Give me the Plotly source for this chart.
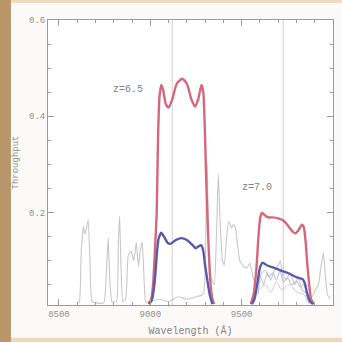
import plotly.graph_objects as go

# ---------------- data ----------------
# z=6.5 filter throughput (red) and with QE (blue)
red65_wl = [8990, 9005, 9015, 9025, 9035, 9042, 9050, 9060, 9070, 9085, 9100, 9120, 9145, 9175, 9200, 9225, 9245, 9262, 9280, 9290, 9298, 9305, 9312, 9320, 9330, 9340, 9350]
red65_val = [0.01, 0.02, 0.05, 0.12, 0.2, 0.35, 0.44, 0.465, 0.455, 0.425, 0.418, 0.435, 0.468, 0.478, 0.468, 0.435, 0.42, 0.435, 0.465, 0.45, 0.38, 0.28, 0.2, 0.12, 0.05, 0.02, 0.01]

blue65_wl = [8995, 9010, 9025, 9035, 9045, 9060, 9075, 9095, 9110, 9140, 9170, 9200, 9230, 9248, 9265, 9280, 9290, 9300, 9312, 9325, 9340]
blue65_val = [0.01, 0.02, 0.06, 0.11, 0.145, 0.158, 0.15, 0.137, 0.135, 0.143, 0.147, 0.143, 0.133, 0.126, 0.13, 0.132, 0.12, 0.09, 0.06, 0.03, 0.01]

# z=7.0 filter
red70_wl = [9550, 9565, 9580, 9592, 9602, 9612, 9625, 9645, 9670, 9700, 9730, 9755, 9780, 9795, 9810, 9830, 9840, 9850, 9860, 9870, 9880, 9895]
red70_val = [0.01, 0.03, 0.08, 0.15, 0.19, 0.2, 0.195, 0.19, 0.19, 0.188, 0.183, 0.172, 0.16, 0.157, 0.163, 0.175, 0.17, 0.14, 0.09, 0.05, 0.02, 0.01]

blue70_wl = [9555, 9570, 9585, 9600, 9615, 9640, 9670, 9700, 9750, 9800, 9835, 9848, 9860, 9875, 9890]
blue70_val = [0.01, 0.02, 0.05, 0.085, 0.096, 0.09, 0.086, 0.082, 0.075, 0.066, 0.061, 0.05, 0.03, 0.015, 0.01]

# faint sky-affected curves
paleblue_wl = [9590, 9610, 9630, 9650, 9670, 9690, 9710, 9730, 9750, 9775, 9800, 9820, 9840, 9855, 9870]
paleblue_val = [0.03, 0.075, 0.08, 0.065, 0.075, 0.06, 0.078, 0.055, 0.065, 0.05, 0.058, 0.045, 0.05, 0.03, 0.01]
palepink_wl = [9600, 9630, 9660, 9690, 9720, 9760, 9800, 9840, 9860]
palepink_val = [0.04, 0.05, 0.035, 0.055, 0.04, 0.05, 0.035, 0.03, 0.015]

# gray spectrum
gray_wl = [8600, 8612, 8622, 8634, 8642, 8652, 8660, 8670, 8682, 8745, 8760, 8770, 8778, 8790, 8815, 8825, 8832, 8840, 8850,
           8865, 8879, 8895, 8910, 8923, 8935, 8945, 8956, 8966, 8975, 9000, 9050, 9100, 9150, 9200, 9250, 9290, 9305, 9312,
           9320, 9335, 9350, 9362, 9372, 9382, 9395, 9405, 9418, 9430, 9445, 9455, 9465, 9478, 9490, 9510, 9530, 9545, 9560,
           9580, 9600, 9620, 9640, 9660, 9680, 9700, 9712, 9725, 9745, 9765, 9790, 9810, 9830, 9860, 9885, 9903, 9920, 9935,
           9947, 9958, 9969, 9985]
gray_val = [0.012, 0.015, 0.12, 0.171, 0.155, 0.17, 0.185, 0.1, 0.015, 0.012, 0.08, 0.148, 0.06, 0.015, 0.015, 0.14, 0.192, 0.08, 0.015,
            0.02, 0.11, 0.12, 0.1, 0.138, 0.088, 0.12, 0.138, 0.06, 0.015, 0.015, 0.02, 0.015, 0.025, 0.02, 0.025, 0.03, 0.2, 0.30,
            0.12, 0.06, 0.05, 0.15, 0.28, 0.18, 0.1, 0.09, 0.15, 0.182, 0.168, 0.175, 0.17, 0.13, 0.1, 0.088, 0.085, 0.095, 0.07,
            0.04, 0.07, 0.05, 0.075, 0.06, 0.08, 0.09, 0.1, 0.07, 0.06, 0.075, 0.05, 0.065, 0.04, 0.03, 0.025, 0.04, 0.05, 0.09,
            0.117, 0.07, 0.03, 0.02]

lya_lines = [9120, 9728]
labels = ["z=6.5", "z=7.0"]
label_x = [8879, 9585]
label_y = [0.455, 0.252]

x_ticks = [8500, 9000, 9500, 10000]
x_ticklabels = ["8500", "9000", "9500", "1000"]
y_ticks = [0.2, 0.4, 0.6]
y_ticklabels = ["0.2", "0.4", "0.6"]

# ---------------- figure ----------------
fig = go.Figure()

fig.add_trace(go.Scatter(x=gray_wl, y=gray_val, mode="lines",
                         line=dict(color="#c8c8c8", width=1.1, shape="spline", smoothing=0.4)))
fig.add_trace(go.Scatter(x=palepink_wl, y=palepink_val, mode="lines",
                         line=dict(color="#e8bcc8", width=1, shape="spline")))
fig.add_trace(go.Scatter(x=paleblue_wl, y=paleblue_val, mode="lines",
                         line=dict(color="#b0b6e6", width=1, shape="spline")))
for wl, val in [(red65_wl, red65_val), (red70_wl, red70_val)]:
    fig.add_trace(go.Scatter(x=wl, y=val, mode="lines",
                             line=dict(color="#d4687a", width=2.4, shape="spline", smoothing=0.6)))
for wl, val in [(blue65_wl, blue65_val), (blue70_wl, blue70_val)]:
    fig.add_trace(go.Scatter(x=wl, y=val, mode="lines",
                             line=dict(color="#5a5aa8", width=2.4, shape="spline", smoothing=0.6)))

for xv in lya_lines:
    fig.add_vline(x=xv, line=dict(color="#cfcfcf", width=1), layer="below")

for t, xv, yv in zip(labels, label_x, label_y):
    fig.add_annotation(x=xv, y=yv, text=t, showarrow=False,
                       font=dict(family="Liberation Mono", size=10, color="#808080"))

axis_common = dict(showline=True, linecolor="#9a9a9a", linewidth=1, mirror="ticks",
                   ticks="inside", tickcolor="#9a9a9a", showgrid=False, zeroline=False,
                   automargin=False,
                   tickfont=dict(family="Liberation Mono", size=9, color="#8f8f8f"))

fig.update_xaxes(range=[8440, 10000], tickvals=x_ticks, ticktext=x_ticklabels, ticklen=6,
                 minor=dict(dtick=100, tick0=8500, ticks="inside", ticklen=3, tickcolor="#9a9a9a"),
                 title=dict(text="Wavelength (Å)", standoff=8,
                            font=dict(family="Liberation Mono", size=10, color="#808080")),
                 **axis_common)
fig.update_yaxes(range=[0.008, 0.6], tickvals=y_ticks, ticktext=y_ticklabels, ticklen=6,
                 minor=dict(dtick=0.05, tick0=0, ticks="inside", ticklen=3, tickcolor="#9a9a9a"),
                 title=dict(text="Throughput", standoff=8,
                            font=dict(family="Liberation Mono", size=9, color="#8f8f8f")),
                 **axis_common)

# photo frame decoration
fig.add_shape(type="rect", xref="paper", yref="paper", x0=-0.17, x1=-0.13, y0=-0.14, y1=1.08,
              fillcolor="#b8966a", line_width=0, layer="below")
fig.add_shape(type="rect", xref="paper", yref="paper", x0=-0.13, x1=1.04, y0=1.06, y1=1.08,
              fillcolor="#efdcc0", line_width=0, layer="below")
fig.add_shape(type="rect", xref="paper", yref="paper", x0=-0.13, x1=1.04, y0=-0.14, y1=-0.115,
              fillcolor="#e8d9bc", line_width=0, layer="below")

fig.update_layout(width=342, height=342, showlegend=False,
                  margin=dict(l=48, r=9, t=20, b=37),
                  paper_bgcolor="#fbfaf8", plot_bgcolor="#ffffff")

fig.write_html("out.html", config={"displayModeBar": False},
               post_script="document.body.style.margin='0';document.body.style.overflow='hidden';")
